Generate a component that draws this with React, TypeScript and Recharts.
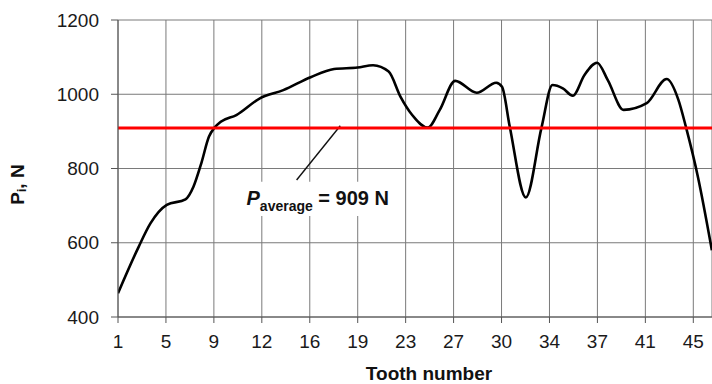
import React from "react";
import {
  LineChart,
  Line,
  XAxis,
  YAxis,
  CartesianGrid,
  ReferenceLine,
  ReferenceArea,
} from "recharts";

// Tooth positions and contact force P_i in N
const toothPos = [
  1, 2.58, 3.48, 4.73, 6.16, 6.77, 7.37, 7.96, 8.38, 8.86, 10.05, 11.85, 13.64,
  15.73, 17.53, 19.32, 20.51, 21.7, 22.61, 23.5, 24.69, 25.61, 26.79, 28.44,
  29.93, 30.37, 30.96, 32.19, 33.39, 34.23, 35.02, 35.78, 36.68, 37.64, 38.46,
  39.67, 41.44, 42.96, 43.86, 44.45, 45.35, 46.42,
];
const force = [
  464, 589, 652, 702, 717, 751, 814, 886, 910, 926, 944, 989, 1011, 1046, 1068,
  1072, 1078, 1061, 993, 944, 910, 958, 1036, 1004, 1031, 1020, 913, 722, 910,
  1025, 1016, 996, 1052, 1085, 1038, 958, 976, 1041, 985, 910, 778, 580,
];

const xTickLabels = ["1", "5", "9", "12", "16", "19", "23", "27", "30", "34", "37", "41", "45"];
const yTicks = [400, 600, 800, 1000, 1200];
const averageForce = 909;

const FIRST_TOOTH = 1;
const LAST_TICK_TOOTH = 45;
const TICK_STEP = (LAST_TICK_TOOTH - FIRST_TOOTH) / (xTickLabels.length - 1);
const xTicks = xTickLabels.map((_, i) => FIRST_TOOTH + i * TICK_STEP);

const data = toothPos.map((t, i) => ({ tooth: t, p: force[i] }));

const FONT = "'Liberation Sans', Arial, Helvetica, sans-serif";

const annotLabel = (props: any) => {
  const vb = props.viewBox || {};
  const x = vb.x + 3;
  const y = vb.y + 23;
  return (
    <text x={x} y={y} fontFamily={FONT} fontWeight="bold" fontSize={20} fill="#111">
      <tspan fontStyle="italic">P</tspan>
      <tspan fontSize={14} dy={6}>average</tspan>
      <tspan dy={-6}> = {averageForce} N</tspan>
    </text>
  );
};

const yLabel = (props: any) => {
  const vb = props.viewBox || {};
  const cx = 17;
  const cy = vb.y + vb.height / 2 + 16;
  return (
    <text
      x={cx}
      y={cy}
      transform={`rotate(-90, ${cx}, ${cy})`}
      textAnchor="middle"
      dominantBaseline="central"
      fontFamily={FONT}
      fontWeight="bold"
      fontSize={19}
      fill="#111"
    >
      P<tspan fontSize={12} dy={5}>i</tspan>
      <tspan dy={-5}>, N</tspan>
    </text>
  );
};

const xLabel = (props: any) => {
  const vb = props.viewBox || {};
  const cx = vb.x + vb.width / 2 + 14;
  return (
    <text
      x={cx}
      y={380}
      textAnchor="middle"
      fontFamily={FONT}
      fontWeight="bold"
      fontSize={19}
      fill="#111"
    >
      Tooth number
    </text>
  );
};

export default function App() {
  return (
    <div style={{ position: "absolute", left: 0, top: 0, width: 712, height: 384, overflow: "hidden", background: "#fff" }}>
      <LineChart
        width={712}
        height={384}
        data={data}
        margin={{ top: 20, right: 0, bottom: 0, left: 0 }}
      >
        <CartesianGrid stroke="#7a7a7a" strokeWidth={1} />
        <XAxis
          type="number"
          dataKey="tooth"
          domain={[FIRST_TOOTH, 46.43]}
          allowDataOverflow
          ticks={xTicks}
          interval={0}
          tickFormatter={(v: number) => xTickLabels[Math.round((v - FIRST_TOOTH) / TICK_STEP)]}
          height={67}
          tickSize={6}
          tickMargin={12}
          stroke="#555"
          tick={{ fill: "#1a1a1a", fontSize: 19, fontFamily: FONT }}
          label={xLabel}
        />
        <YAxis
          type="number"
          domain={[400, 1200]}
          ticks={yTicks}
          interval={0}
          width={118}
          tickSize={7}
          tickMargin={12}
          stroke="#555"
          tick={{ fill: "#1a1a1a", fontSize: 19, fontFamily: FONT }}
          label={yLabel}
        />
        <ReferenceArea
          x1={10.6}
          x2={22.3}
          y1={672}
          y2={764}
          fill="#fff"
          fillOpacity={1}
          stroke="none"
          label={annotLabel}
        />
        <ReferenceLine
          segment={[
            { x: 18.0, y: 915 },
            { x: 14.66, y: 769 },
          ]}
          stroke="#111"
          strokeWidth={1.4}
        />
        <Line
          type="monotone"
          dataKey="p"
          stroke="#000"
          strokeWidth={2.6}
          dot={false}
          isAnimationActive={false}
        />
        <ReferenceLine y={averageForce} stroke="#ff0000" strokeWidth={3} />
      </LineChart>
    </div>
  );
}
